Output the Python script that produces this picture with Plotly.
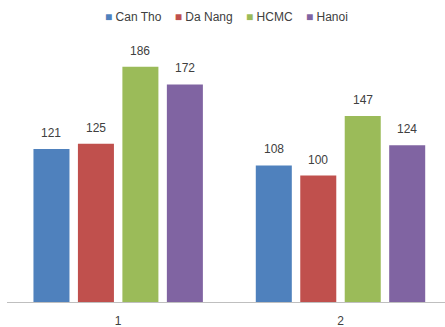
import plotly.graph_objects as go

categories = ["1", "2"]
series_names = ["Can Tho", "Da Nang", "HCMC", "Hanoi"]
can_tho = [121, 108]
da_nang = [125, 100]
hcmc = [186, 147]
hanoi = [172, 124]
colors = ["#4F81BD", "#C0504D", "#9BBB59", "#8064A2"]
all_series = [can_tho, da_nang, hcmc, hanoi]

W, H = 445, 327
ML, MR, MT, MB = 7, 0, 49, 25
BARGAP, GROUPGAP = 0.20, 0.19
X_RANGE = [-0.5, 1.47]
FONT = "Liberation Sans, Arial, sans-serif"
TXT = "#404040"

fig = go.Figure()
for name, vals, c in zip(series_names, all_series, colors):
    fig.add_trace(go.Bar(x=categories, y=vals, name=name, marker_color=c,
                         marker_line_width=0))

# data labels via annotations, offset to each bar's slot in the group
plot_w = W - ML - MR
cat_px = plot_w / (X_RANGE[1] - X_RANGE[0])
slot_px = cat_px * (1 - BARGAP) / len(series_names)
n = len(series_names)
for i, vals in enumerate(all_series):
    for ci, v in enumerate(vals):
        fig.add_annotation(x=ci, y=v, text=str(v), showarrow=False,
                           xanchor="center", yanchor="bottom",
                           xshift=(i - (n - 1) / 2) * slot_px, yshift=7,
                           font=dict(size=12, color=TXT, family=FONT))

# legend drawn as a single line of text with coloured squares
legend_text = "&nbsp;&nbsp;&nbsp;&nbsp;".join(
    f"<span style='color:{c}'>■</span>&nbsp;{nm}" for nm, c in zip(series_names, colors))
fig.add_annotation(x=0.5, xref="paper", y=1 + (MT - 17) / (H - MT - MB), yref="paper",
                   text=legend_text, showarrow=False, xanchor="center", yanchor="middle",
                   font=dict(size=12, color=TXT, family=FONT))

fig.update_layout(
    width=W, height=H,
    margin=dict(l=ML, r=MR, t=MT, b=MB, autoexpand=False),
    plot_bgcolor="white", paper_bgcolor="white",
    barmode="group", bargap=BARGAP, bargroupgap=GROUPGAP,
    font=dict(family=FONT, size=12, color=TXT),
    showlegend=False,
    xaxis=dict(type="category", range=X_RANGE,
               showline=True, linecolor="#BFBFBF", linewidth=1, ticks="",
               showgrid=False, ticklabelstandoff=8, automargin=False,
               tickfont=dict(size=12, color=TXT)),
    yaxis=dict(range=[0, 200], visible=False, showgrid=False, automargin=False),
)
fig.write_html("out.html")
